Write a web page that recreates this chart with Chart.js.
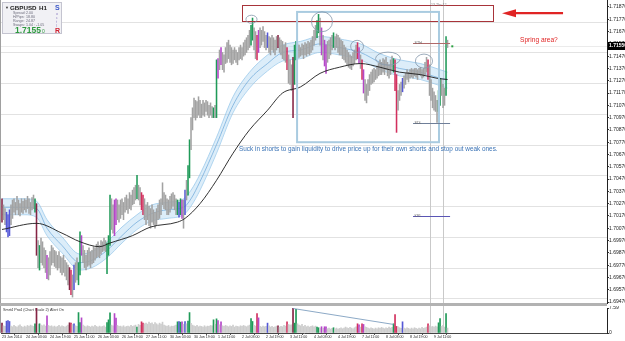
<!DOCTYPE html>
<html>
<head>
<meta charset="utf-8">
<script src="https://cdn.jsdelivr.net/npm/chart.js@4.4.1/dist/chart.umd.min.js"></script>
<style>
html, body { margin: 0; padding: 0; background: #fff; }
#wrap { position: relative; width: 625px; height: 341px; overflow: hidden; background: #fff; font-family: "Liberation Sans", Arial, sans-serif; }
#main { position: absolute; left: 0; top: 0; }
#sep { position: absolute; left: 0; top: 303px; width: 607px; height: 3px; background: #b2b2b2; }
#vol { position: absolute; left: 0; top: 306px; }
#info { position: absolute; left: 2px; top: 2px; width: 60px; height: 32px; background: #f1f1f5; border: 1px solid #c4c4d0; box-sizing: border-box; }
#info b, #info i { position: absolute; white-space: nowrap; line-height: 1; font-style: normal; }
#info i { font-size: 3.6px; color: #6a6a7a; }
</style>
</head>
<body>
<div id="wrap">
  <canvas id="main" width="625" height="304"></canvas>
  <div id="sep"></div>
  <canvas id="vol" width="625" height="35"></canvas>
  <div id="info">
    <i style="left:2px;top:3px;font-size:4px;color:#333">▼</i>
    <b style="left:7px;top:2px;font-size:6.2px;color:#222">GBPUSD</b>
    <b style="left:36px;top:2px;font-size:6.2px;color:#222">H1</b>
    <b style="left:52px;top:1px;font-size:7px;color:#3a56c8">S</b>
    <i style="left:10px;top:9px">Spread:</i><i style="left:23px;top:9px">2.00</i>
    <i style="left:10px;top:13px">H/Pips:</i><i style="left:23px;top:13px">18.80</i>
    <i style="left:10px;top:17px">Range:</i><i style="left:23px;top:17px">24.87</i>
    <i style="left:10px;top:21px">Swaps:</i><i style="left:23px;top:21px">1.04 : -1.05</i>
    <i style="left:53px;top:10px;color:#8a7ac0">o</i>
    <i style="left:53px;top:14px;color:#8a7ac0">c</i>
    <i style="left:53px;top:18px;color:#8a7ac0">t</i>
    <i style="left:53px;top:22px;color:#8a7ac0">l</i>
    <b style="left:12px;top:23px;font-size:8.5px;color:#2d9a3e">1.7155</b>
    <i style="left:39px;top:26px;font-size:5px;color:#2d9a3e">0</i>
    <b style="left:52px;top:24px;font-size:7px;color:#d02030">R</b>
  </div>
</div>
<script>
// GBPUSD H1, 23 Jun 2014 11:00 .. 9 Jul 2014, one entry per hourly bar
const tickBars = [0, 16, 32, 48, 64, 80, 96, 112, 128, 144, 160, 176, 192, 208, 224, 240, 256, 272, 288];
const tickLabels = ['23 Jun 2014', '24 Jun 03:00', '24 Jun 19:00', '25 Jun 11:00', '26 Jun 03:00', '26 Jun 19:00',
  '27 Jun 11:00', '30 Jun 03:00', '30 Jun 19:00', '1 Jul 11:00', '2 Jul 03:00', '2 Jul 19:00', '3 Jul 11:00',
  '4 Jul 03:00', '4 Jul 19:00', '7 Jul 11:00', '8 Jul 03:00', '8 Jul 19:00', '9 Jul 11:00'];
const priceTicks = [1.6947, 1.6957, 1.6967, 1.6977, 1.6987, 1.6997, 1.7007, 1.7017, 1.7027, 1.7037, 1.7047, 1.7057,
  1.7067, 1.7077, 1.7087, 1.7097, 1.7107, 1.7117, 1.7127, 1.7137, 1.7147, 1.7157, 1.7167, 1.7177, 1.7187];

const highs = [
  1.7031,1.7026,1.7023,1.7020,1.7018,1.7022,1.7026,1.7030,1.7031,1.7028,1.7033,1.7030,1.7027,1.7031,1.7029,1.7031,
  1.7030,1.7033,1.7031,1.7028,1.7032,1.7034,1.7031,1.7027,1.6997,1.6993,1.6999,1.6996,1.6991,1.6989,1.6985,1.6983,
  1.6988,1.6993,1.6991,1.6989,1.6988,1.6985,1.6988,1.6984,1.6983,1.6985,1.6981,1.6979,1.6977,1.6975,1.6973,1.6969,
  1.6977,1.6979,1.6983,1.6979,1.7004,1.7001,1.6993,1.6989,1.6985,1.6989,1.6991,1.6988,1.6989,1.6992,1.6991,1.6994,
  1.6996,1.6993,1.6997,1.6996,1.6999,1.6997,1.6995,1.7001,1.7034,1.7031,1.7026,1.7030,1.7031,1.7030,1.7026,1.7030,
  1.7031,1.7028,1.7032,1.7034,1.7031,1.7036,1.7034,1.7038,1.7040,1.7042,1.7050,1.7042,1.7040,1.7036,1.7034,1.7031,
  1.7026,1.7028,1.7025,1.7023,1.7026,1.7022,1.7020,1.7023,1.7026,1.7030,1.7031,1.7044,1.7036,1.7034,1.7031,1.7030,
  1.7033,1.7035,1.7036,1.7034,1.7031,1.7030,1.7028,1.7031,1.7030,1.7030,1.7038,1.7046,1.7058,1.7079,1.7097,1.7105,
  1.7113,1.7111,1.7110,1.7114,1.7111,1.7108,1.7111,1.7109,1.7111,1.7110,1.7107,1.7109,1.7106,1.7105,1.7107,1.7144,
  1.7145,1.7152,1.7154,1.7150,1.7148,1.7154,1.7158,1.7160,1.7156,1.7154,1.7152,1.7154,1.7152,1.7150,1.7154,1.7156,
  1.7154,1.7158,1.7160,1.7162,1.7164,1.7168,1.7172,1.7178,1.7170,1.7167,1.7164,1.7168,1.7170,1.7168,1.7171,1.7167,
  1.7164,1.7166,1.7163,1.7162,1.7164,1.7162,1.7160,1.7163,1.7164,1.7162,1.7160,1.7159,1.7156,1.7158,1.7154,1.7148,
  1.7144,1.7140,1.7146,1.7156,1.7159,1.7157,1.7156,1.7154,1.7157,1.7156,1.7158,1.7157,1.7159,1.7158,1.7160,1.7163,
  1.7168,1.7172,1.7176,1.7181,1.7178,1.7170,1.7164,1.7160,1.7156,1.7159,1.7160,1.7162,1.7164,1.7166,1.7163,1.7165,
  1.7164,1.7162,1.7160,1.7159,1.7156,1.7154,1.7152,1.7150,1.7148,1.7147,1.7150,1.7152,1.7156,1.7158,1.7154,1.7148,
  1.7144,1.7136,1.7128,1.7124,1.7128,1.7132,1.7134,1.7136,1.7137,1.7136,1.7139,1.7141,1.7144,1.7142,1.7145,1.7144,
  1.7146,1.7142,1.7140,1.7144,1.7147,1.7145,1.7144,1.7132,1.7119,1.7124,1.7126,1.7129,1.7131,1.7133,1.7136,1.7134,
  1.7136,1.7137,1.7136,1.7137,1.7137,1.7136,1.7137,1.7138,1.7136,1.7137,1.7142,1.7146,1.7144,1.7140,1.7128,1.7121,
  1.7118,1.7115,1.7111,1.7119,1.7129,1.7128,1.7124,1.7121,1.7163,1.7160
];
const lows = [
  1.7012,1.7014,1.7010,1.7004,1.7000,1.7001,1.7010,1.7015,1.7020,1.7018,1.7022,1.7018,1.7017,1.7020,1.7019,1.7022,
  1.7020,1.7023,1.7019,1.7018,1.7022,1.7023,1.7020,1.6985,1.6975,1.6973,1.6979,1.6977,1.6975,1.6971,1.6966,1.6965,
  1.6969,1.6977,1.6979,1.6976,1.6975,1.6973,1.6975,1.6971,1.6969,1.6971,1.6968,1.6965,1.6961,1.6957,1.6953,1.6951,
  1.6957,1.6963,1.6965,1.6961,1.6969,1.6985,1.6979,1.6975,1.6973,1.6976,1.6977,1.6975,1.6978,1.6979,1.6981,1.6983,
  1.6984,1.6983,1.6986,1.6988,1.6989,1.6988,1.6970,1.6985,1.6993,1.7006,1.7003,1.7001,1.7010,1.7014,1.7012,1.7015,
  1.7018,1.7014,1.7020,1.7022,1.7019,1.7023,1.7022,1.7026,1.7027,1.7030,1.7031,1.7030,1.7026,1.7022,1.7018,1.7014,
  1.7010,1.7014,1.7009,1.7007,1.7012,1.7010,1.7007,1.7010,1.7014,1.7015,1.7018,1.7026,1.7023,1.7022,1.7018,1.7018,
  1.7020,1.7023,1.7025,1.7022,1.7018,1.7018,1.7016,1.7018,1.7015,1.7007,1.7018,1.7030,1.7034,1.7048,1.7071,1.7087,
  1.7097,1.7095,1.7097,1.7099,1.7097,1.7097,1.7099,1.7098,1.7102,1.7099,1.7097,1.7099,1.7097,1.7097,1.7097,1.7097,
  1.7129,1.7136,1.7140,1.7136,1.7134,1.7141,1.7142,1.7145,1.7142,1.7140,1.7141,1.7144,1.7142,1.7140,1.7144,1.7145,
  1.7144,1.7147,1.7148,1.7150,1.7152,1.7154,1.7156,1.7160,1.7152,1.7145,1.7144,1.7150,1.7154,1.7156,1.7159,1.7154,
  1.7152,1.7154,1.7150,1.7148,1.7152,1.7150,1.7148,1.7152,1.7154,1.7150,1.7148,1.7145,1.7144,1.7142,1.7136,1.7125,
  1.7124,1.7119,1.7097,1.7124,1.7144,1.7145,1.7146,1.7147,1.7148,1.7145,1.7148,1.7147,1.7149,1.7148,1.7150,1.7152,
  1.7156,1.7160,1.7162,1.7166,1.7156,1.7148,1.7144,1.7139,1.7133,1.7142,1.7145,1.7148,1.7152,1.7154,1.7152,1.7154,
  1.7150,1.7148,1.7148,1.7145,1.7144,1.7142,1.7140,1.7138,1.7137,1.7136,1.7139,1.7141,1.7144,1.7145,1.7141,1.7137,
  1.7128,1.7117,1.7111,1.7109,1.7115,1.7119,1.7124,1.7125,1.7126,1.7128,1.7129,1.7131,1.7132,1.7132,1.7134,1.7132,
  1.7136,1.7131,1.7129,1.7132,1.7136,1.7134,1.7119,1.7085,1.7103,1.7111,1.7115,1.7118,1.7121,1.7124,1.7128,1.7126,
  1.7129,1.7130,1.7129,1.7131,1.7130,1.7128,1.7132,1.7131,1.7129,1.7130,1.7132,1.7134,1.7128,1.7115,1.7111,1.7105,
  1.7103,1.7102,1.7093,1.7102,1.7107,1.7115,1.7105,1.7107,1.7115,1.7154
];
// volume (Chart Scale 2 units)
const volumes = [
  3.0,2.2,2.0,3.6,3.8,3.5,2.1,1.9,2.3,2.0,1.8,2.2,2.5,2.0,1.7,2.1,
  1.9,2.3,2.0,2.4,2.2,2.0,2.8,7.5,2.6,2.8,2.4,2.2,2.5,2.1,5.2,2.3,
  2.0,2.2,1.9,2.1,1.8,2.0,2.3,1.9,2.2,2.0,1.8,2.1,2.4,3.1,3.0,2.6,
  2.8,2.2,2.0,6.2,3.2,4.6,2.4,2.1,1.9,2.2,2.0,1.8,2.1,1.9,2.3,2.0,
  1.8,2.1,1.9,2.0,2.2,1.8,3.2,4.0,6.1,2.4,2.2,5.9,4.5,2.3,2.0,2.1,
  1.9,2.2,1.8,2.0,2.1,1.9,2.3,2.0,2.2,2.4,1.8,2.6,2.3,3.4,3.0,2.8,
  3.0,2.7,3.3,2.9,3.1,2.6,3.2,2.8,2.5,3.0,2.7,3.3,2.4,2.2,2.0,2.3,
  1.9,2.1,2.0,2.2,2.4,3.4,3.5,3.3,3.4,2.6,3.5,2.8,3.6,6.2,2.9,2.4,
  2.2,2.0,2.3,1.9,2.1,2.0,1.8,2.2,1.9,2.1,2.0,2.3,2.2,4.0,2.6,4.3,
  3.8,2.5,3.4,2.2,2.0,2.3,2.1,1.9,2.2,2.0,2.4,1.8,2.1,2.0,1.9,2.2,
  2.0,2.3,2.1,1.9,2.2,2.4,4.4,3.5,2.3,2.1,5.9,4.6,2.0,1.8,2.1,1.9,
  2.0,3.0,2.2,1.8,2.0,1.7,1.9,2.1,2.2,1.8,2.0,1.9,2.3,2.1,3.4,2.6,
  2.4,2.5,7.59,3.0,7.2,2.8,2.4,2.2,2.6,2.0,2.3,1.9,2.1,1.8,2.0,2.2,
  1.9,2.1,1.8,1.6,1.5,1.9,1.4,1.9,1.9,1.3,1.5,1.2,1.4,1.6,1.3,1.5,
  1.2,1.4,1.6,1.3,1.5,1.8,1.6,1.4,1.7,1.5,1.3,1.6,1.9,2.8,2.5,1.8,
  2.8,2.6,1.9,1.7,1.5,1.3,1.6,1.4,1.2,1.5,1.3,1.6,1.4,1.7,1.5,1.3,
  1.6,1.4,1.8,1.5,1.7,2.8,5.6,2.0,1.9,1.6,1.4,3.4,1.5,1.3,1.6,1.4,
  1.2,1.5,1.3,1.6,1.4,1.2,1.5,1.3,1.7,1.4,1.6,1.8,2.8,2.2,1.9,2.0,
  1.8,2.1,1.9,3.1,4.4,2.0,2.3,1.8,5.9,1.5
];
// PVA bar class: [bar, class]  1 climax up, 2 climax down, 3 rising, 4 churn, 5 heavy down; all others normal
const pvaBars = [[0,5],[3,3],[4,3],[5,3],[22,1],[23,5],[25,1],[30,4],[45,5],[46,2],[48,3],[51,1],[52,1],[53,4],
  [70,1],[71,1],[72,1],[75,4],[76,4],[90,1],[93,2],[94,2],[117,1],[118,3],[119,1],[120,4],[122,3],[124,1],[125,1],
  [141,1],[143,1],[144,4],[146,4],[166,1],[167,1],[170,2],[171,4],[177,3],[184,5],[190,2],[194,5],[195,1],[196,1],
  [210,1],[211,1],[213,4],[215,4],[216,4],[221,1],[237,2],[238,4],[240,2],[241,4],[261,1],[262,2],[263,2],[267,3],
  [284,2],[291,1],[292,1],[296,1]];

// dragon band (high / mid / low) and slow MA, read at sample bars
const dragonBars = [0, 15, 23, 30, 40, 52, 60, 70, 80, 90, 100, 110, 121, 126, 132, 143, 154, 165, 177, 187, 199, 212, 225, 239, 252, 265, 279, 292, 297];
const dragonHigh = [1.7031,1.7031,1.7029,1.7014,1.7000,1.6986,1.6988,1.6996,1.7008,1.7018,1.7026,1.7028,1.7031,1.7038,1.7051,1.7081,1.7114,1.7134,1.7148,1.7156,1.7159,1.7163,1.7161,1.7157,1.7149,1.7144,1.7141,1.7136,1.7134];
const dragonMid  = [1.7024,1.7024,1.7023,1.7007,1.6993,1.6979,1.6981,1.6989,1.7001,1.7012,1.7019,1.7022,1.7024,1.7031,1.7045,1.7075,1.7107,1.7128,1.7141,1.7150,1.7152,1.7157,1.7154,1.7150,1.7142,1.7137,1.7134,1.7129,1.7128];
const dragonLow  = [1.7018,1.7018,1.7016,1.7001,1.6987,1.6973,1.6975,1.6983,1.6995,1.7006,1.7013,1.7015,1.7018,1.7025,1.7038,1.7068,1.7101,1.7121,1.7135,1.7143,1.7145,1.7150,1.7148,1.7144,1.7136,1.7131,1.7128,1.7123,1.7121];
const maBars = [0, 23, 40, 52, 65, 72, 87, 99, 117, 122, 132, 143, 154, 165, 177, 187, 199, 212, 225, 239, 252, 265, 279, 290, 297];
const maSlow = [1.7006,1.7011,1.7003,1.6996,1.6992,1.6995,1.7001,1.7008,1.7012,1.7015,1.7027,1.7046,1.7068,1.7087,1.7103,1.7117,1.7122,1.7133,1.7138,1.7141,1.7138,1.7134,1.7132,1.7129,1.7128];

const quarterLevels = [1.6950, 1.6975, 1.7000, 1.7025, 1.7050, 1.7075, 1.7100, 1.7125, 1.7150, 1.7175];
const bid = 1.71550;
const timeLines = [285, 294];
const volTrendBars = [194, 261];
const volTrendValues = [7.45, 2.6];

// ---- styling ----
Chart.defaults.font.family = '"Liberation Sans", Arial, sans-serif';
const candleCol = ['#a2a2a2', '#1f9a58', '#d2305e', '#5558d6', '#b447c8', '#862444'];
const volCol = ['#cdcdcd', '#1f9a58', '#d2305e', '#5558d6', '#b447c8', '#862444'];
const cls = highs.map(() => 0);
pvaBars.forEach(([b, c]) => { cls[b] = c; });

const xMin = -0.67, xMax = 403.3;
const pts = (xs, ys) => xs.map((x, i) => ({ x: x, y: ys[i] }));

function hLine(ctx, x0, y0, x1, y1) { ctx.beginPath(); ctx.moveTo(x0, y0); ctx.lineTo(x1, y1); ctx.stroke(); }

const mainDecor = {
  id: 'mainDecor',
  beforeDatasetsDraw(chart) {
    const { ctx, chartArea: a, scales: { x, y } } = chart;
    ctx.save();
    ctx.lineWidth = 1;
    ctx.strokeStyle = '#e2e2e2';
    quarterLevels.forEach(v => { const py = Math.round(y.getPixelForValue(v)) + 0.5; hLine(ctx, a.left, py, a.right, py); });
    ctx.strokeStyle = '#ebebeb';
    const by = Math.round(y.getPixelForValue(bid)) + 0.5;
    hLine(ctx, a.left, by, a.right, by);
    ctx.strokeStyle = '#c9c9c9';
    timeLines.forEach(b => { const px = Math.round(x.getPixelForValue(b)) + 0.5; hLine(ctx, px, a.top, px, a.bottom); });
    ctx.strokeStyle = '#a0a0a0';
    hLine(ctx, 0.5, a.top, 0.5, a.bottom);
    ctx.restore();
  },
  afterDatasetsDraw(chart) {
    const { ctx, scales: { x, y } } = chart;
    const X = v => x.getPixelForValue(v), Y = v => y.getPixelForValue(v);
    ctx.save();
    // spring area box
    ctx.strokeStyle = '#a8343a'; ctx.lineWidth = 1;
    let x0 = Math.round(X(160)) + 0.5, y0 = Math.round(Y(1.7189)) + 0.5;
    ctx.strokeRect(x0, y0, Math.round(X(327.3) - X(160)), Math.round(Y(1.7176) - Y(1.7189)));
    // range box
    ctx.strokeStyle = '#a9cbe0'; ctx.lineWidth = 2;
    ctx.strokeRect(X(196.7), Y(1.7183), X(291.3) - X(196.7), Y(1.7077) - Y(1.7183));
    // circles
    ctx.strokeStyle = '#8497ab'; ctx.lineWidth = 0.8;
    [[166.3, 1.7177, 3.7, 0.00033], [213.3, 1.7175, 7, 0.00081], [236.7, 1.7155, 4.3, 0.00049],
     [257.3, 1.7145, 8.3, 0.00053], [281.3, 1.7143, 5.7, 0.00057]].forEach(([b, p, db, dp]) => {
      ctx.beginPath();
      ctx.ellipse(X(b), Y(p), X(b + db) - X(b), Y(p - dp) - Y(p), 0, 0, Math.PI * 2);
      ctx.stroke();
    });
    // level segments
    ctx.font = '3.6px "Liberation Sans", Arial, sans-serif';
    ctx.textBaseline = 'bottom';
    [[1.7158, 'STH', '#b06a6a'], [1.7093, 'SDL', '#6f7f99'], [1.7017, 'KRL', '#5a55b5']].forEach(([p, t, c]) => {
      const py = Math.round(Y(p)) + 0.5;
      ctx.strokeStyle = c; ctx.lineWidth = 1;
      hLine(ctx, X(274), py, X(298.7), py);
      ctx.fillStyle = '#666';
      ctx.fillText(t, X(275), py + 1);
    });
    // vertical line label
    ctx.fillStyle = '#888';
    ctx.textBaseline = 'middle';
    ctx.fillText('13 Thr:12', X(286), Y(1.7189));
    // green marker
    ctx.fillStyle = '#2aa040';
    ctx.fillRect(X(299.5), Y(1.7155) - 1, 2, 2);
    // comment text
    ctx.fillStyle = '#3b73b5';
    ctx.font = '6.4px "Liberation Sans", Arial, sans-serif';
    ctx.textBaseline = 'middle';
    ctx.fillText('Suck in shorts to gain liquidity to drive price up for their own shorts and stop out weak ones.', X(158), Y(1.7071), X(346) - X(158));
    // spring label and arrow
    ctx.fillStyle = '#e02424';
    ctx.font = '6.6px "Liberation Sans", Arial, sans-serif';
    ctx.fillText('Spring area?', X(345.3), Y(1.7160));
    const ay = Y(1.7182), ax0 = X(374), ax1 = X(333.3);
    ctx.strokeStyle = '#e02424'; ctx.lineWidth = 2.2;
    hLine(ctx, ax0, ay, ax1 + 12, ay);
    ctx.beginPath();
    ctx.moveTo(ax1, ay); ctx.lineTo(ax1 + 14, ay - 4); ctx.lineTo(ax1 + 14, ay + 4); ctx.closePath();
    ctx.fill();
    ctx.restore();
  },
  afterDraw(chart) {
    const { ctx, chartArea: a, scales: { y } } = chart;
    const py = Math.round(y.getPixelForValue(bid));
    ctx.save();
    ctx.fillStyle = '#000';
    ctx.fillRect(a.right + 1, py - 4, 18, 8);
    ctx.fillStyle = '#fff';
    ctx.font = 'bold 5px "Liberation Sans", Arial, sans-serif';
    ctx.textBaseline = 'middle';
    ctx.fillText(bid.toFixed(5), a.right + 2, py);
    ctx.restore();
  }
};

new Chart(document.getElementById('main'), {
  type: 'bar',
  data: {
    datasets: [
      { type: 'line', data: pts(dragonBars, dragonHigh), borderColor: 'rgba(140,192,232,0.85)', borderWidth: 0.8,
        backgroundColor: 'rgba(178,214,242,0.45)', fill: '+1', pointRadius: 0, cubicInterpolationMode: 'monotone', order: 4 },
      { type: 'line', data: pts(dragonBars, dragonLow), borderColor: 'rgba(140,192,232,0.85)', borderWidth: 0.8,
        fill: false, pointRadius: 0, cubicInterpolationMode: 'monotone', order: 4 },
      { type: 'line', data: pts(dragonBars, dragonMid), borderColor: '#6aa6d8', borderWidth: 0.7,
        fill: false, pointRadius: 0, cubicInterpolationMode: 'monotone', order: 3 },
      { type: 'bar', data: highs.map((h, i) => ({ x: i, y: [lows[i], h] })),
        backgroundColor: cls.map(c => candleCol[c]), barThickness: 0.9, order: 2 },
      { type: 'line', data: pts(maBars, maSlow), borderColor: '#1c1c1c', borderWidth: 0.9,
        fill: false, pointRadius: 0, cubicInterpolationMode: 'monotone', order: 1 }
    ]
  },
  options: {
    responsive: false,
    animation: false,
    events: [],
    layout: { padding: { left: 1, top: 0, right: 0, bottom: 1 } },
    plugins: { legend: { display: false }, tooltip: { enabled: false } },
    scales: {
      x: { type: 'linear', min: xMin, max: xMax, offset: false, display: false, bounds: 'data' },
      y: {
        position: 'right', min: 1.694619, max: 1.719269, beginAtZero: false, bounds: 'data',
        afterBuildTicks: s => { s.ticks = priceTicks.map(v => ({ value: v })); },
        afterFit: s => { s.width = 18; s.paddingTop = 0; s.paddingBottom = 0; },
        ticks: { font: { size: 5 }, color: '#222', padding: 0, callback: v => v.toFixed(5) },
        grid: { drawOnChartArea: false, tickLength: 2, color: '#333' },
        border: { color: '#222' }
      }
    }
  },
  plugins: [mainDecor]
});

const volDecor = {
  id: 'volDecor',
  beforeDatasetsDraw(chart) {
    const { ctx, chartArea: a, scales: { x } } = chart;
    ctx.save();
    ctx.strokeStyle = '#c9c9c9'; ctx.lineWidth = 1;
    timeLines.forEach(b => { const px = Math.round(x.getPixelForValue(b)) + 0.5; hLine(ctx, px, 0, px, a.bottom); });
    ctx.strokeStyle = '#a0a0a0';
    hLine(ctx, 0.5, 0, 0.5, a.bottom);
    ctx.fillStyle = '#333';
    ctx.font = '3.8px "Liberation Sans", Arial, sans-serif';
    ctx.textBaseline = 'top';
    ctx.fillText('Smrt4 Pro4 (Chart Scale 2)', a.left + 2, a.top + 0.5);
    ctx.fillText('Alert On', a.left + 49, a.top + 0.5);
    ctx.restore();
  }
};

new Chart(document.getElementById('vol'), {
  type: 'bar',
  data: {
    datasets: [
      { type: 'bar', data: volumes.map((v, i) => ({ x: i, y: v })),
        backgroundColor: cls.map(c => volCol[c]), barThickness: 1, order: 2 },
      { type: 'line', data: pts(volTrendBars, volTrendValues), borderColor: '#6e93b8', borderWidth: 0.8,
        pointRadius: 0, fill: false, order: 1 }
    ]
  },
  options: {
    responsive: false,
    animation: false,
    events: [],
    layout: { padding: { left: 1, top: 2, right: 0, bottom: 0 } },
    plugins: { legend: { display: false }, tooltip: { enabled: false } },
    scales: {
      x: {
        type: 'linear', min: xMin, max: xMax, offset: false, bounds: 'data',
        afterBuildTicks: s => { s.ticks = tickBars.map(v => ({ value: v })); },
        afterFit: s => { s.height = 8; s.paddingLeft = 0; s.paddingRight = 0; },
        ticks: { autoSkip: false, maxRotation: 0, minRotation: 0, align: 'start', padding: 0,
          font: { size: 3.6 }, color: '#222', callback: (v, i) => tickLabels[i] },
        grid: { drawOnChartArea: false, tickLength: 2, color: '#555' },
        border: { color: '#444' }
      },
      y: {
        position: 'right', min: 0, max: 7.59, beginAtZero: true, bounds: 'data',
        afterBuildTicks: s => { s.ticks = [{ value: 0 }, { value: 7.59 }]; },
        afterFit: s => { s.width = 18; s.paddingTop = 0; s.paddingBottom = 0; },
        ticks: { font: { size: 5 }, color: '#222', padding: 0, callback: v => (v === 0 ? '0' : v.toFixed(2)) },
        grid: { drawOnChartArea: false, tickLength: 2, color: '#333' },
        border: { color: '#222' }
      }
    }
  },
  plugins: [volDecor]
});
</script>
</body>
</html>
